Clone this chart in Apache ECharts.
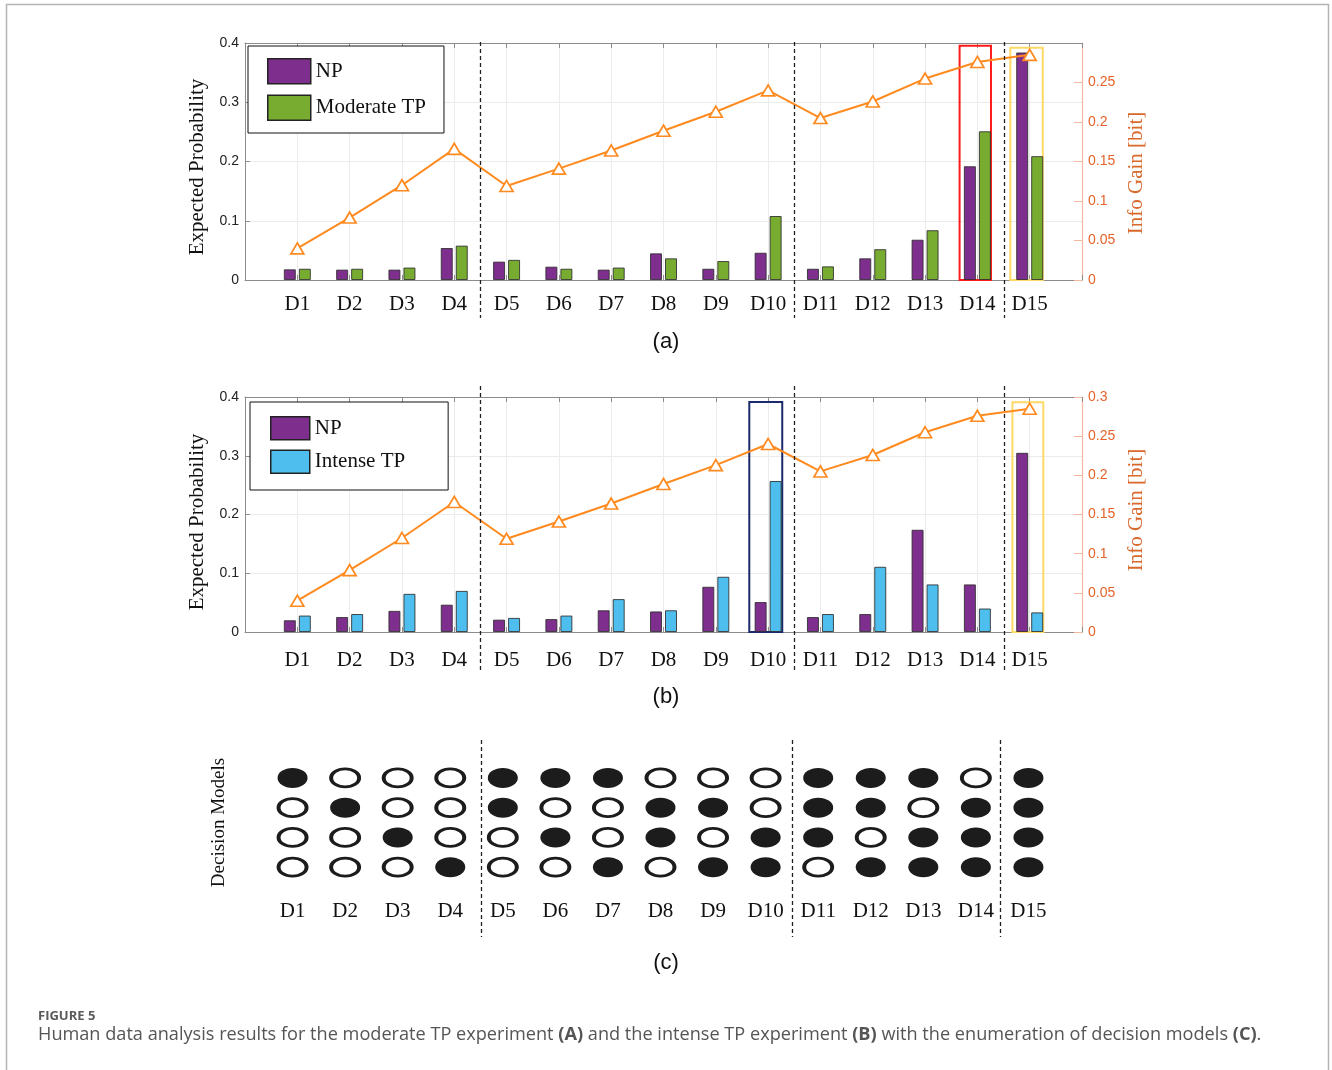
<!DOCTYPE html>
<html>
<head>
<meta charset="utf-8">
<script src="https://cdn.jsdelivr.net/npm/echarts@6/dist/echarts.min.js"></script>
<style>
html, body { margin: 0; padding: 0; background: #fff; }
#fig { width: 1332px; height: 1070px; }
</style>
</head>
<body>
<div id="fig"></div>
<script>
// decision categories
var decisions = ['D1', 'D2', 'D3', 'D4', 'D5', 'D6', 'D7', 'D8', 'D9', 'D10', 'D11', 'D12', 'D13', 'D14', 'D15'];
// info gain (same curve in a and b)
var infoGain = [0.040, 0.079, 0.120, 0.166, 0.119, 0.141, 0.164, 0.189, 0.213, 0.240, 0.205, 0.226, 0.255, 0.276, 0.285];
// (a) moderate TP experiment
var npModerate = [0.018, 0.0175, 0.0175, 0.054, 0.031, 0.0225, 0.0175, 0.045, 0.019, 0.046, 0.019, 0.0366, 0.068, 0.192, 0.384];
var moderateTP = [0.019, 0.019, 0.021, 0.058, 0.034, 0.019, 0.021, 0.0366, 0.032, 0.108, 0.023, 0.052, 0.084, 0.251, 0.209];
// (b) intense TP experiment
var npIntense = [0.020, 0.0255, 0.036, 0.0465, 0.021, 0.022, 0.037, 0.035, 0.077, 0.051, 0.0255, 0.0306, 0.174, 0.081, 0.305];
var intenseTP = [0.028, 0.0306, 0.065, 0.070, 0.024, 0.028, 0.056, 0.037, 0.094, 0.257, 0.0306, 0.111, 0.081, 0.040, 0.0334];
// (c) decision models, 4 rows per decision, 1 = filled
var modelRows = [
  [1, 0, 0, 0], [0, 1, 0, 0], [0, 0, 1, 0], [0, 0, 0, 1],
  [1, 1, 0, 0], [1, 0, 1, 0], [1, 0, 0, 1], [0, 1, 1, 0], [0, 1, 0, 1], [0, 0, 1, 1],
  [1, 1, 1, 0], [1, 1, 0, 1], [1, 0, 1, 1], [0, 1, 1, 1],
  [1, 1, 1, 1]
];
// tick labels
var probTicks = [0, 0.1, 0.2, 0.3, 0.4];
var gainTicks = [0, 0.05, 0.1, 0.15, 0.2, 0.25, 0.3];

var purple = '#7E2F8E', green = '#77AC30', blue = '#4DBEEE', orange = '#FF8A1F';
var axisGray = '#8c8c8c', salmon = '#F6B8A0', gainLabel = '#E4632B';
var serif = '"Liberation Serif", "Times New Roman", serif';
var sans = '"Liberation Sans", Arial, sans-serif';

function pairs(arr) {
  return arr.map(function (v, i) { return [i + 1, v]; });
}
function decLabel(v) {
  return (v >= 1 && v <= decisions.length) ? decisions[v - 1] : '';
}

function bottomAxis(grid, margin) {
  return {
    gridIndex: grid, type: 'value', min: 0, max: decisions.length + 1, interval: 1, position: 'bottom',
    axisLine: { onZero: false, lineStyle: { color: axisGray } },
    axisTick: { inside: true, length: 5, lineStyle: { color: axisGray } },
    axisLabel: { formatter: decLabel, fontFamily: serif, fontSize: 21, color: '#111', margin: margin },
    splitLine: { show: true, lineStyle: { color: '#ececec' } }
  };
}
function topAxis(grid) {
  return {
    gridIndex: grid, type: 'value', min: 0, max: decisions.length + 1, interval: 1, position: 'top',
    axisLine: { onZero: false, lineStyle: { color: axisGray } },
    axisTick: { inside: true, length: 5, lineStyle: { color: axisGray } },
    axisLabel: { show: false }, splitLine: { show: false }
  };
}
function probAxis(grid, pad) {
  return {
    gridIndex: grid, type: 'value', min: probTicks[0], max: probTicks[probTicks.length - 1],
    interval: probTicks[1] - probTicks[0], position: 'left',
    name: 'Expected Probability', nameLocation: 'middle', nameGap: 37, nameRotate: 90,
    nameTextStyle: { fontFamily: serif, fontSize: 21, color: '#111', padding: pad },
    axisLine: { show: true, onZero: false, lineStyle: { color: axisGray } },
    axisTick: { show: true, inside: true, length: 5, lineStyle: { color: axisGray } },
    axisLabel: { fontFamily: sans, fontSize: 14, color: '#222', margin: 6 },
    splitLine: { lineStyle: { color: '#ebebeb' } }
  };
}
function gainAxis(grid, showMax, pad) {
  return {
    gridIndex: grid, type: 'value', min: gainTicks[0], max: gainTicks[gainTicks.length - 1],
    interval: gainTicks[1] - gainTicks[0], position: 'right',
    name: 'Info Gain [bit]', nameLocation: 'middle', nameGap: 44, nameRotate: 90,
    nameTextStyle: { fontFamily: serif, fontSize: 21, color: '#D9682B', padding: pad },
    axisLine: { show: true, onZero: false, lineStyle: { color: salmon, width: 1.2 } },
    axisTick: { show: true, inside: true, length: 8, lineStyle: { color: salmon } },
    axisLabel: { fontFamily: sans, fontSize: 14, color: gainLabel, margin: 6, showMaxLabel: showMax },
    splitLine: { show: false }
  };
}
function barSeries(name, x, y, data, color, boxes) {
  var s = {
    name: name, type: 'bar', xAxisIndex: x, yAxisIndex: y, data: pairs(data),
    barWidth: 12, barGap: '25%',
    itemStyle: { color: color, borderColor: 'rgba(45,45,45,0.85)', borderWidth: 1 }
  };
  if (boxes) {
    s.markArea = {
      silent: true,
      data: boxes.map(function (b) {
        return [
          { xAxis: b[0], yAxis: b[2], itemStyle: { color: 'rgba(0,0,0,0)', borderColor: b[4], borderWidth: 2 } },
          { xAxis: b[1], yAxis: b[3] }
        ];
      })
    };
  }
  return s;
}
function gainSeries(x, y) {
  return {
    name: 'Info Gain', type: 'line', xAxisIndex: x, yAxisIndex: y, data: pairs(infoGain), z: 5,
    symbol: 'triangle', symbolSize: [13, 11],
    lineStyle: { color: orange, width: 2 },
    itemStyle: { color: '#fff', borderColor: orange, borderWidth: 1.7 }
  };
}

// highlight boxes [x0, x1, y0, y1, colour] in axis units
var boxesA = [[13.66, 14.26, 0, 0.3955, '#FF1A1A'], [14.63, 15.25, 0, 0.392, '#FFD966']];
var boxesB = [[9.64, 10.27, -0.005, 0.3915, '#1B2A6B'], [14.67, 15.26, 0, 0.391, '#FFD966']];

var filledPts = [], hollowPts = [];
modelRows.forEach(function (col, i) {
  col.forEach(function (v, r) {
    (v ? filledPts : hollowPts).push([i + 1, r + 1]);
  });
});

var chart = echarts.init(document.getElementById('fig'), null, { renderer: 'canvas' });

var option = {
  animation: false,
  backgroundColor: '#fff',
  grid: [
    { left: 245, top: 43, width: 837, height: 237, outerBoundsMode: 'none' },
    { left: 245, top: 397, width: 837, height: 235, outerBoundsMode: 'none' },
    { left: 240, top: 763, width: 841, height: 119, outerBoundsMode: 'none' }
  ],
  legend: [
    {
      data: ['NP', 'Moderate TP'], orient: 'vertical', left: 248, top: 46,
      padding: [12, 18, 12, 19], itemWidth: 43, itemHeight: 25, itemGap: 10,
      borderColor: '#111', borderWidth: 1, backgroundColor: '#fff', selectedMode: false, icon: 'rect',
      itemStyle: { borderColor: '#222', borderWidth: 1.5 },
      textStyle: { fontFamily: serif, fontSize: 21, color: '#111' }
    },
    {
      data: ['NP', 'Intense TP'], orient: 'vertical', left: 250, top: 402,
      padding: [14, 43, 16, 20], itemWidth: 39, itemHeight: 23, itemGap: 9,
      borderColor: '#111', borderWidth: 1, backgroundColor: '#fff', selectedMode: false, icon: 'rect',
      itemStyle: { borderColor: '#222', borderWidth: 1.5 },
      textStyle: { fontFamily: serif, fontSize: 21, color: '#111' }
    }
  ],
  xAxis: [
    bottomAxis(0, 14), topAxis(0),
    bottomAxis(1, 18), topAxis(1),
    {
      gridIndex: 2, type: 'value', min: 0, max: decisions.length + 1, interval: 1,
      axisLine: { show: false, onZero: false }, axisTick: { show: false }, splitLine: { show: false },
      axisLabel: { formatter: decLabel, fontFamily: serif, fontSize: 21, color: '#111', margin: 19 }
    }
  ],
  yAxis: [
    probAxis(0, [0, 11, 0, 0]), gainAxis(0, false, [0, 23, 0, 0]),
    probAxis(1, [0, 15, 0, 0]), gainAxis(1, true, [0, 0, 0, 9]),
    {
      gridIndex: 2, type: 'value', min: 0.5, max: 4.5, inverse: true,
      name: 'Decision Models', nameLocation: 'middle', nameGap: 11, nameRotate: 90,
      nameTextStyle: { fontFamily: serif, fontSize: 19, color: '#111' },
      axisLine: { show: false, onZero: false }, axisTick: { show: false }, axisLabel: { show: false }, splitLine: { show: false }
    }
  ],
  series: [
    barSeries('NP', 0, 0, npModerate, purple, boxesA),
    barSeries('Moderate TP', 0, 0, moderateTP, green),
    gainSeries(1, 1),
    barSeries('NP', 2, 2, npIntense, purple, boxesB),
    barSeries('Intense TP', 2, 2, intenseTP, blue),
    gainSeries(3, 3),
    {
      name: 'filled', type: 'scatter', xAxisIndex: 4, yAxisIndex: 4, data: filledPts,
      symbol: 'circle', symbolSize: [30, 20], itemStyle: { color: '#1c1c1c', opacity: 1 }
    },
    {
      name: 'hollow', type: 'scatter', xAxisIndex: 4, yAxisIndex: 4, data: hollowPts,
      symbol: 'circle', symbolSize: [28, 18],
      itemStyle: { color: '#fff', borderColor: '#1c1c1c', borderWidth: 3.2, opacity: 1 }
    }
  ]
};
chart.setOption(option);

// dashed separators between decision groups, placed through the axes
var sepAB = [4.5, 10.5, 14.5];
var sepC = [4.58, 10.5, 14.45];
var graphics = [
  { type: 'rect', shape: { x: 6.5, y: 4.5, width: 1322, height: 1100 }, style: { fill: 'none', stroke: '#b4b4b4', lineWidth: 1.5 }, silent: true },
  { type: 'text', x: 666, y: 342, style: { text: '(a)', font: '22px ' + sans, fill: '#111', textAlign: 'center', textVerticalAlign: 'middle' } },
  { type: 'text', x: 666, y: 697, style: { text: '(b)', font: '22px ' + sans, fill: '#111', textAlign: 'center', textVerticalAlign: 'middle' } },
  { type: 'text', x: 666, y: 963, style: { text: '(c)', font: '22px ' + sans, fill: '#111', textAlign: 'center', textVerticalAlign: 'middle' } },
  { type: 'text', left: 38, top: 1010, style: { text: 'FIGURE 5', font: 'bold 13px "Open Sans", sans-serif', fill: '#5a5a5a' } },
  {
    type: 'text', left: 38, top: 1026,
    style: {
      text: 'Human data analysis results for the moderate TP experiment {b|(A)} and the intense TP experiment {b|(B)} with the enumeration of decision models {b|(C)}.',
      font: '18.15px "Open Sans", sans-serif', fill: '#555',
      rich: { b: { fontWeight: 'bold', fontSize: 18.15, fontFamily: '"Open Sans", sans-serif', fill: '#555' } }
    }
  }
];
[[0, sepAB, 42, 318], [2, sepAB, 386, 671], [4, sepC, 740, 937]].forEach(function (p) {
  p[1].forEach(function (v) {
    var x = Math.round(chart.convertToPixel({ xAxisIndex: p[0] }, v)) + 0.5;
    graphics.push({
      type: 'line', silent: true, z: 10,
      shape: { x1: x, y1: p[2], x2: x, y2: p[3] },
      style: { stroke: '#222', lineWidth: 1.3, lineDash: [4, 3] }
    });
  });
});
chart.setOption({ graphic: graphics });
</script>
</body>
</html>
